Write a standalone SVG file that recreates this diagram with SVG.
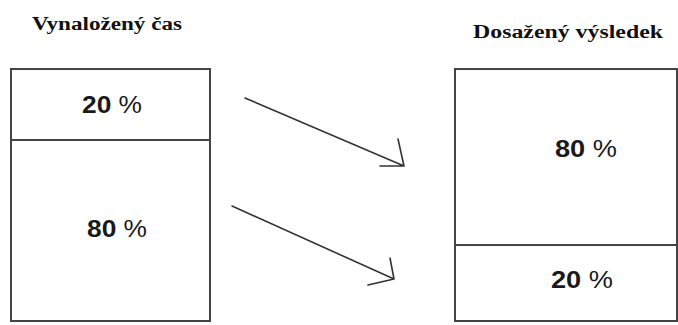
<svg xmlns="http://www.w3.org/2000/svg" width="678" height="325" viewBox="0 0 678 325">
  <style>
    .title { font-family: "Liberation Serif", "DejaVu Serif", serif; font-weight: bold; font-size: 18px; fill: #111; }
    .pct { font-family: "Liberation Sans", Arial, sans-serif; font-size: 24px; fill: #1a1a1a; text-anchor: middle; }
    .num { font-weight: bold; }
    .box { fill: #fff; stroke: #444; stroke-width: 2; }
    .div { stroke: #444; stroke-width: 2; }
    .arrow { fill: none; stroke: #333; stroke-width: 1.6; stroke-linecap: round; stroke-linejoin: round; }
  </style>
  <rect width="678" height="325" fill="#fff"/>

  <g id="spent-time">
    <text class="title" x="32" y="30" textLength="150" lengthAdjust="spacingAndGlyphs">Vynaložený čas</text>
    <rect class="box" x="11" y="69" width="199" height="252"/>
    <line class="div" x1="11" y1="140" x2="210" y2="140"/>
    <text class="pct" x="112" y="113" textLength="60" lengthAdjust="spacingAndGlyphs"><tspan class="num">20</tspan> %</text>
    <text class="pct" x="117" y="237" textLength="60" lengthAdjust="spacingAndGlyphs"><tspan class="num">80</tspan> %</text>
  </g>

  <g id="achieved-result">
    <text class="title" x="473" y="38" textLength="190" lengthAdjust="spacingAndGlyphs">Dosažený výsledek</text>
    <rect class="box" x="455" y="69" width="222" height="252"/>
    <line class="div" x1="455" y1="245" x2="677" y2="245"/>
    <text class="pct" x="586" y="157" textLength="62" lengthAdjust="spacingAndGlyphs"><tspan class="num">80</tspan> %</text>
    <text class="pct" x="582" y="288" textLength="62" lengthAdjust="spacingAndGlyphs"><tspan class="num">20</tspan> %</text>
  </g>

  <g id="connectors">
    <path class="arrow" d="M245,98 L404,166 M380,166 L404,166 L398,139"/>
    <path class="arrow" d="M232,206 L394,279 M368,285 L394,279 L390,258"/>
  </g>
</svg>
